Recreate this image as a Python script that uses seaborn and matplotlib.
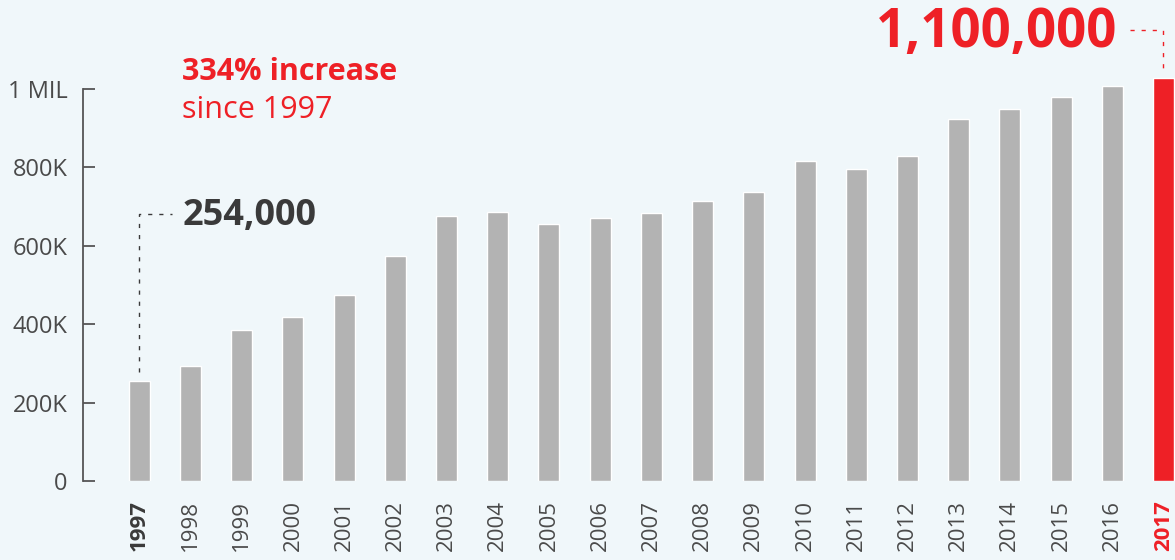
import matplotlib
matplotlib.use("Agg")
import matplotlib.pyplot as plt
import seaborn as sns
import pandas as pd

years = [str(y) for y in range(1997, 2018)]
values = [254000, 293000, 385000, 418000, 474000, 574000, 676000, 686000, 656000,
          671000, 684000, 714000, 737000, 816000, 796000, 829000, 923000, 949000,
          980000, 1008000, 1028000]
ytick_values = [0, 200000, 400000, 600000, 800000, 1000000]
ytick_labels = ["0", "200K", "400K", "600K", "800K", "1 MIL"]
start_label = "254,000"
end_label = "1,100,000"
headline = "334% increase"
subline = "since 1997"

BG = "#f0f7fa"
GRAY = "#b3b3b3"
RED = "#ee2026"
TXT = "#4a4a4a"
DARK = "#3a3a3a"

sns.set_theme(style="white")
plt.rcParams["font.family"] = ["Open Sans", "DejaVu Sans"]

df = pd.DataFrame({"year": years, "value": values})
palette = {y: (RED if y == years[-1] else GRAY) for y in years}

fig = plt.figure(figsize=(11.75, 5.6), dpi=100, facecolor=BG)
ax = fig.add_axes([83 / 1175, 79 / 560, (1175 - 83) / 1175, 481 / 560])
ax.set_facecolor(BG)

sns.barplot(data=df, x="year", y="value", hue="year", palette=palette,
            width=0.41, legend=False, saturation=1, ax=ax)

ax.set_xlim(-1.10, 20.225)
ax.set_ylim(0, 481 / 392 * 1e6)
for s in ["top", "right", "bottom"]:
    ax.spines[s].set_visible(False)
ax.spines["left"].set_bounds(0, 1e6)
ax.spines["left"].set_color("#555555")
ax.spines["left"].set_linewidth(1.3)

ax.set_yticks(ytick_values)
ax.set_yticklabels(ytick_labels)
ax.tick_params(axis="y", direction="in", length=8.6, width=1.3, color="#555555",
               pad=11, labelsize=17, labelcolor=TXT, left=True)
ax.tick_params(axis="x", length=0, pad=14, labelsize=16, labelcolor=TXT)
for lab in ax.get_xticklabels():
    lab.set_rotation(90)
    lab.set_va("top")
    t = lab.get_text()
    if t == years[0]:
        lab.set_fontweight("bold")
        lab.set_color(DARK)
    elif t == years[-1]:
        lab.set_fontweight("bold")
        lab.set_color(RED)
ax.set_xlabel("")
ax.set_ylabel("")

# 1997 connector and label
ax.plot([0, 0, 0.63], [values[0] + 25000, 681000, 681000], ls=(0, (3, 5)),
        color=DARK, lw=1, clip_on=False)
ax.text(0.85, 653000, start_label, ha="left", va="baseline", fontsize=26,
        fontweight="bold", color=DARK)

# 2017 connector and label
n = len(years) - 1
ax.plot([n - 0.65, n, n], [1150500, 1150500, values[-1] + 25000], ls=(0, (3, 5)),
        color=RED, lw=1, clip_on=False)
ax.text(n - 0.91, 1107000, end_label, ha="right", va="baseline", fontsize=38,
        fontweight="bold", color=RED)

# headline
ax.text(0.83, 1023000, headline, ha="left", va="baseline", fontsize=22,
        fontweight="bold", color=RED)
ax.text(0.83, 926000, subline, ha="left", va="baseline", fontsize=22,
        color=RED)

fig.savefig("out.png", dpi=100, facecolor=BG)
